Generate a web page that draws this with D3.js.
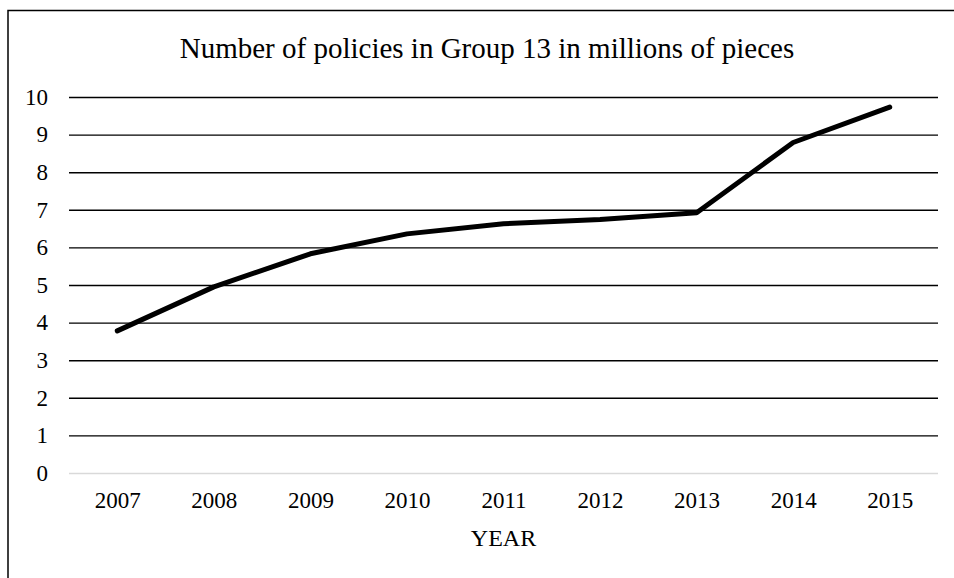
<!DOCTYPE html>
<html>
<head>
<meta charset="utf-8">
<script src="https://cdn.jsdelivr.net/npm/d3@7"></script>
<style>
  body { margin: 0; background: #fff; }
  svg text { font-family: "Liberation Serif", "Times New Roman", serif; fill: #000; }
</style>
</head>
<body>
<div id="chart"></div>
<script>
// data
var years = ["2007", "2008", "2009", "2010", "2011", "2012", "2013", "2014", "2015"];
var policies = [3.78, 4.95, 5.83, 6.36, 6.63, 6.74, 6.92, 8.79, 9.73];
var yTicks = [0, 1, 2, 3, 4, 5, 6, 7, 8, 9, 10];

var width = 954,
    height = 578;
var serif = "'Liberation Serif', 'Times New Roman', serif";

var margin = {top: 97, right: 16, bottom: 105, left: 69};

var svg = d3.select("#chart")
    .append("svg")
    .attr("width", width)
    .attr("height", height);

// outer chart frame, runs past the right and bottom edge
svg.append("rect")
    .attr("x", 8)
    .attr("y", 10.5)
    .attr("width", 980)
    .attr("height", 600)
    .attr("fill", "none")
    .attr("stroke", "#000")
    .attr("stroke-width", 1.5);

var x = d3.scalePoint()
    .domain(years)
    .range([margin.left, width - margin.right])
    .padding(0.5);

var y = d3.scaleLinear()
    .domain([0, 10])
    .range([height - margin.bottom, margin.top]);

// horizontal grid lines + y labels
var yAxis = svg.append("g")
    .attr("transform", "translate(" + margin.left + ",0)")
    .call(d3.axisLeft(y)
        .tickValues(yTicks)
        .tickSize(-(width - margin.left - margin.right))
        .tickPadding(21)
        .tickFormat(d3.format("d")));

yAxis.attr("font-family", serif);
yAxis.select(".domain").remove();
yAxis.selectAll(".tick line")
    .attr("stroke", function (d) { return d === 0 ? "#d9d9d9" : "#000"; })
    .attr("stroke-width", function (d) { return d === 0 ? 1.5 : 1.4; });
yAxis.selectAll(".tick text")
    .attr("font-size", 23)
    .attr("fill", "#000");

// x labels
var xAxis = svg.append("g")
    .attr("transform", "translate(0," + (height - margin.bottom) + ")")
    .call(d3.axisBottom(x).tickSize(0).tickPadding(19));

xAxis.attr("font-family", serif);
xAxis.select(".domain").remove();
xAxis.selectAll(".tick text")
    .attr("font-size", 23)
    .attr("fill", "#000");

// the series
var line = d3.line()
    .x(function (d, i) { return x(years[i]); })
    .y(function (d) { return y(d); });

svg.append("path")
    .datum(policies)
    .attr("d", line)
    .attr("fill", "none")
    .attr("stroke", "#000")
    .attr("stroke-width", 5)
    .attr("stroke-linejoin", "round")
    .attr("stroke-linecap", "round");

// title and axis title
svg.append("text")
    .attr("x", 487)
    .attr("y", 58)
    .attr("text-anchor", "middle")
    .attr("font-family", serif)
    .attr("font-size", 29)
    .text("Number of policies in Group 13 in millions of pieces");

svg.append("text")
    .attr("x", (margin.left + width - margin.right) / 2)
    .attr("y", 546)
    .attr("text-anchor", "middle")
    .attr("font-family", serif)
    .attr("font-size", 24)
    .text("YEAR");
</script>
</body>
</html>
